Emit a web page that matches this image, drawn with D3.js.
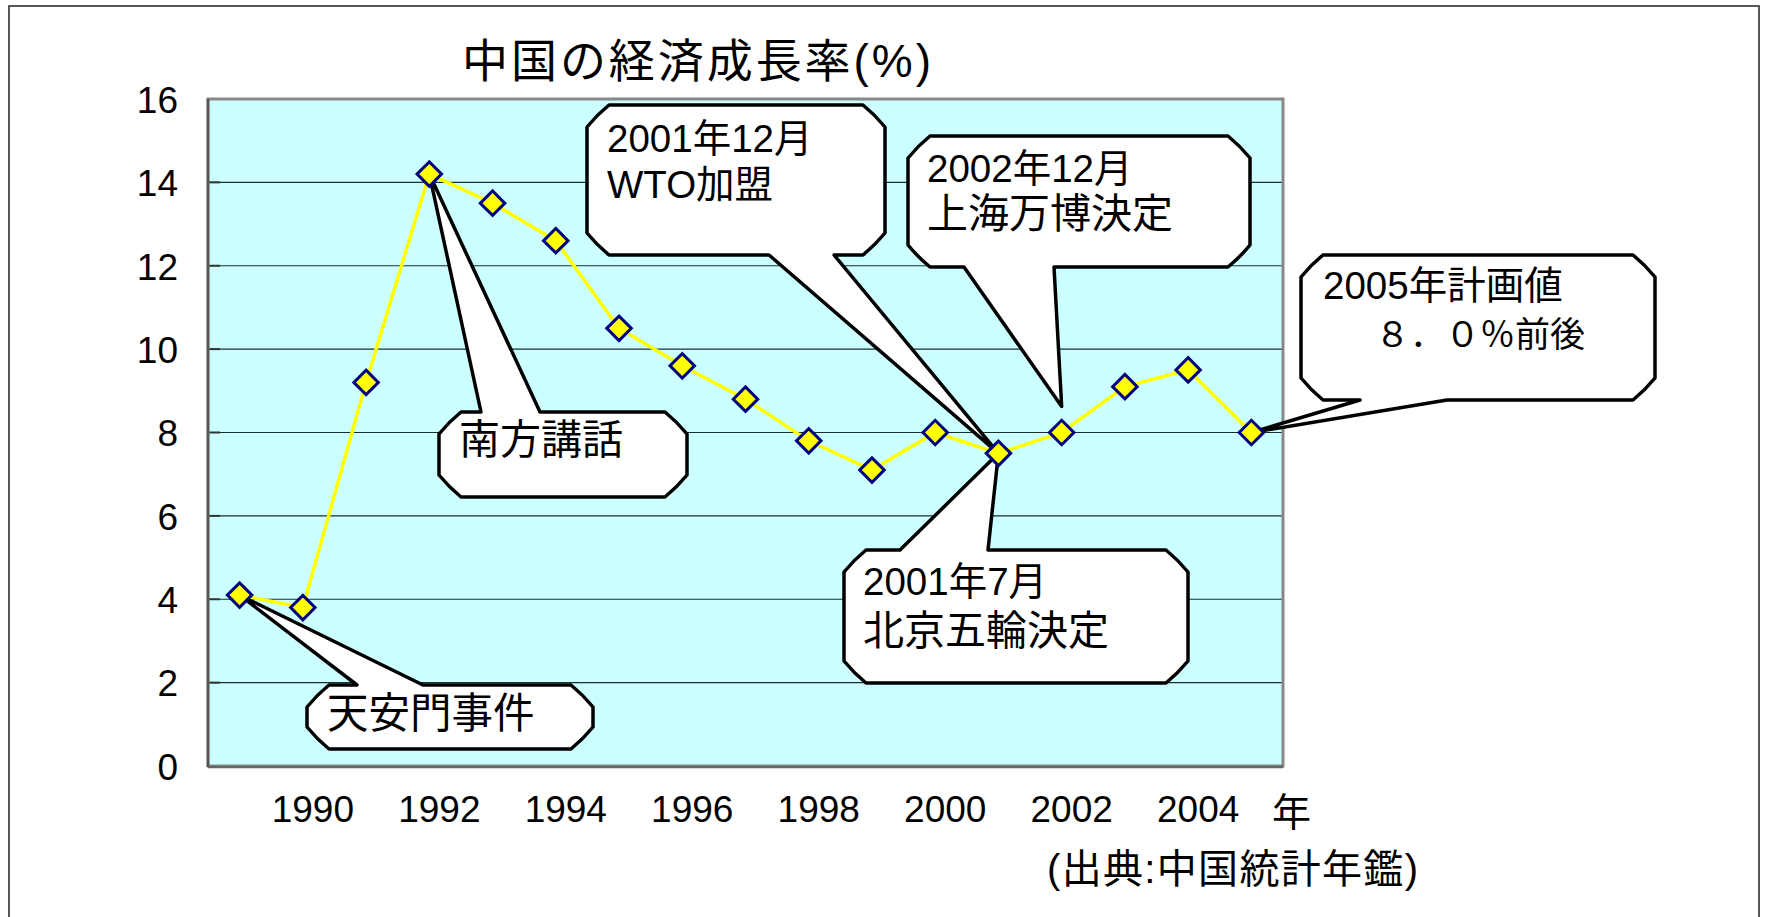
<!DOCTYPE html>
<html lang="ja">
<head>
<meta charset="utf-8">
<script src="https://cdn.jsdelivr.net/npm/d3@7/dist/d3.min.js"></script>
<style>
  body { margin: 0; background: #fff; }
  text { font-family: "Liberation Sans", "Noto Sans CJK JP", sans-serif; }
</style>
</head>
<body>
<script>

var years = [1989, 1990, 1991, 1992, 1993, 1994, 1995, 1996, 1997, 1998, 1999, 2000, 2001, 2002, 2003, 2004, 2005];
var growth = [4.1, 3.8, 9.2, 14.2, 13.5, 12.6, 10.5, 9.6, 8.8, 7.8, 7.1, 8.0, 7.5, 8.0, 9.1, 9.5, 8.0];
var xLabels = [1990, 1992, 1994, 1996, 1998, 2000, 2002, 2004];
var yTicks = [0, 2, 4, 6, 8, 10, 12, 14, 16];

var title = "中国の経済成長率(%)";
var yearUnit = "年";
var source = "(出典:中国統計年鑑)";

// callout texts and the year each one points at
var notes = [
  { lines: ["天安門事件"], year: 1989 },
  { lines: ["南方講話"], year: 1992 },
  { lines: ["2001年12月", "WTO加盟"], year: 2001 },
  { lines: ["2002年12月", "上海万博決定"], year: 2002 },
  { lines: ["2001年7月", "北京五輪決定"], year: 2001 },
  { lines: ["2005年計画値", "８．０％前後"], year: 2005 }
];

// where each callout box sits (box, pointer side, pointer base, text offsets, font sizes)
var noteLayout = [
  { box: [307, 685, 593, 749], side: "top", base: [357, 423], tipDy: 0, tx: 20, ty: [43], ldx: [0], fs: [41.5] },
  { box: [439, 412, 687, 497], side: "top", base: [481, 540], tipDy: 0, tx: 20, ty: [42], ldx: [0], fs: [41] },
  { box: [587, 105, 885, 255], side: "bottom", base: [769, 834], tipDy: 0, tx: 20, ty: [47, 93], ldx: [0, 0], fs: [38.5, 38.5] },
  { box: [908, 136, 1250, 267], side: "bottom", base: [964, 1054], tipDy: -26, tx: 19, ty: [46, 92], ldx: [0, 0], fs: [38.5, 41] },
  { box: [844, 550, 1188, 683], side: "top", base: [900, 988], tipDy: 0, tx: 19, ty: [45, 95], ldx: [0, 0], fs: [38.5, 41] },
  { box: [1301, 255, 1655, 400], side: "bottom", base: [1360, 1447], tipDy: 0, tx: 22, ty: [44, 92], ldx: [0, 52], fs: [38.5, 35] }
];

var w = 1767, h = 917;
var plotL = 208, plotR = 1283, plotT = 99, plotB = 766;

var svg = d3.select("body").append("svg")
  .attr("width", w)
  .attr("height", h);

svg.append("rect").attr("width", w).attr("height", h).attr("fill", "#fff");

// outer frame (bottom edge runs off the picture)
svg.append("rect")
  .attr("x", 9).attr("y", 6)
  .attr("width", 1750).attr("height", 1000)
  .attr("fill", "none")
  .attr("stroke", "#222")
  .attr("stroke-width", 1.5);

var xScale = d3.scaleBand().domain(years).range([plotL, plotR]);
var yScale = d3.scaleLinear().domain([0, 16]).range([plotB, plotT]);

function xc(yr) { return xScale(yr) + xScale.bandwidth() / 2; }

// plot area
svg.append("rect")
  .attr("x", plotL).attr("y", plotT)
  .attr("width", plotR - plotL).attr("height", plotB - plotT)
  .attr("fill", "#ccffff");

svg.append("g").selectAll("line")
  .data(yTicks.slice(1, -1))
  .enter().append("line")
  .attr("x1", plotL).attr("x2", plotR)
  .attr("y1", function(d) { return yScale(d); })
  .attr("y2", function(d) { return yScale(d); })
  .attr("stroke", "#1a2e2e")
  .attr("stroke-width", 1.2);

svg.append("g").selectAll("line")
  .data(yTicks)
  .enter().append("line")
  .attr("x1", plotL).attr("x2", plotL + 12)
  .attr("y1", function(d) { return yScale(d); })
  .attr("y2", function(d) { return yScale(d); })
  .attr("stroke", "#333")
  .attr("stroke-width", 2);

svg.append("rect")
  .attr("x", plotL).attr("y", plotT)
  .attr("width", plotR - plotL).attr("height", plotB - plotT)
  .attr("fill", "none")
  .attr("stroke", "#888")
  .attr("stroke-width", 3);

svg.append("line")
  .attr("x1", plotL).attr("x2", plotL)
  .attr("y1", plotT).attr("y2", plotB + 1)
  .attr("stroke", "#555").attr("stroke-width", 2.5);
svg.append("line")
  .attr("x1", plotL).attr("x2", plotR)
  .attr("y1", plotB + 1).attr("y2", plotB + 1)
  .attr("stroke", "#666").attr("stroke-width", 2.5);

// axes
var yAxis = svg.append("g")
  .attr("transform", "translate(" + plotL + ",0)")
  .call(d3.axisLeft(yScale).tickValues(yTicks).tickSize(0).tickPadding(30));
yAxis.select(".domain").remove();
yAxis.selectAll("text")
  .attr("font-size", 37)
  .attr("font-family", "Liberation Sans, sans-serif")
  .attr("fill", "#000")
  .attr("dy", "0.36em");

var xAxis = svg.append("g")
  .call(d3.axisBottom(xScale).tickValues(xLabels).tickSize(0).tickPadding(0));
xAxis.select(".domain").remove();
xAxis.selectAll("text")
  .attr("font-size", 37)
  .attr("font-family", "Liberation Sans, sans-serif")
  .attr("fill", "#000")
  .attr("y", 822)
  .attr("dy", 0)
  .attr("dx", 10);

svg.append("text")
  .attr("x", 1272).attr("y", 826)
  .attr("font-size", 39)
  .text(yearUnit);

svg.append("text")
  .attr("x", 1047).attr("y", 883)
  .attr("font-size", 40)
  .attr("textLength", 371)
  .attr("lengthAdjust", "spacing")
  .text(source);

svg.append("text")
  .attr("x", 462).attr("y", 77)
  .attr("font-size", 46)
  .attr("textLength", 469)
  .attr("lengthAdjust", "spacing")
  .text(title);

// callouts: box with clipped corners and a wedge pointing at the data point
function calloutPath(L, tip) {
  var x0 = L.box[0], y0 = L.box[1], x1 = L.box[2], y1 = L.box[3];
  var c = 22, k = 0.45;
  var p = d3.path();
  p.moveTo(x0, y0 + c);
  p.quadraticCurveTo(x0 + c * k, y0 + c * k, x0 + c, y0);
  if (L.side == "top") {
    p.lineTo(L.base[0], y0);
    p.lineTo(tip[0], tip[1]);
    p.lineTo(L.base[1], y0);
  }
  p.lineTo(x1 - c, y0);
  p.quadraticCurveTo(x1 - c * k, y0 + c * k, x1, y0 + c);
  p.lineTo(x1, y1 - c);
  p.quadraticCurveTo(x1 - c * k, y1 - c * k, x1 - c, y1);
  if (L.side == "bottom") {
    p.lineTo(L.base[1], y1);
    p.lineTo(tip[0], tip[1]);
    p.lineTo(L.base[0], y1);
  }
  p.lineTo(x0 + c, y1);
  p.quadraticCurveTo(x0 + c * k, y1 - c * k, x0, y1 - c);
  p.closePath();
  return p.toString();
}

var callouts = svg.append("g").selectAll("g")
  .data(notes)
  .enter().append("g");

callouts.append("path")
  .attr("d", function(d, i) {
    var L = noteLayout[i];
    var tip = [xc(d.year), yScale(growth[years.indexOf(d.year)]) + L.tipDy];
    return calloutPath(L, tip);
  })
  .attr("fill", "#fff")
  .attr("stroke", "#000")
  .attr("stroke-width", 3.5)
  .attr("stroke-linejoin", "round");

callouts.each(function(d, i) {
  var L = noteLayout[i];
  var t = d3.select(this).append("text")
    .attr("fill", "#000");
  d.lines.forEach(function(line, j) {
    t.append("tspan")
      .attr("x", L.box[0] + L.tx + L.ldx[j])
      .attr("y", L.box[1] + L.ty[j])
      .attr("font-size", L.fs[j])
      .text(line);
  });
});

// series
var line = d3.line()
  .x(function(d, i) { return xc(years[i]); })
  .y(function(d) { return yScale(d); });

svg.append("path")
  .datum(growth)
  .attr("d", line)
  .attr("fill", "none")
  .attr("stroke", "#ffff00")
  .attr("stroke-width", 3.5);

svg.append("g").selectAll("path")
  .data(growth)
  .enter().append("path")
  .attr("d", d3.symbol(d3.symbolSquare, 300))
  .attr("transform", function(d, i) {
    return "translate(" + xc(years[i]) + "," + yScale(d) + ") rotate(45)";
  })
  .attr("fill", "#ffff00")
  .attr("stroke", "#000080")
  .attr("stroke-width", 3);

</script>
</body>
</html>
